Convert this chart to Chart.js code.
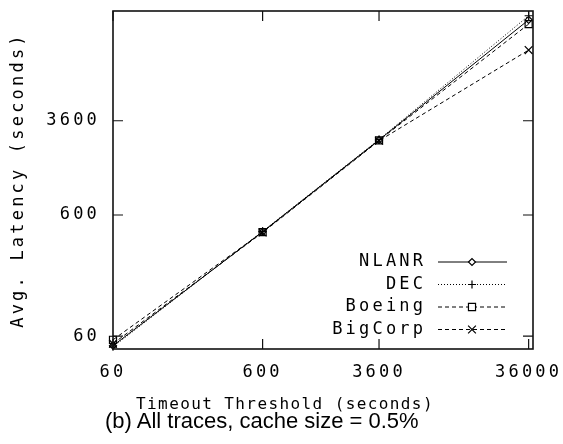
<!DOCTYPE html>
<html><head><meta charset="utf-8">
<script src="https://cdn.jsdelivr.net/npm/chart.js@4.4.0/dist/chart.umd.min.js"></script>
<style>
html,body{margin:0;padding:0;background:#fff;}
#wrap{position:relative;width:563px;height:444px;overflow:hidden;}
#c{position:absolute;left:0;top:0;}
#caption{position:absolute;left:105px;top:408px;font-family:"Liberation Sans",Arial,sans-serif;font-size:22px;color:#000;white-space:nowrap;line-height:26px;}
#xtitle{position:absolute;left:0;width:570px;top:394px;text-align:center;font-family:"DejaVu Sans Mono","Liberation Mono",monospace;font-size:16px;line-height:20px;letter-spacing:1.4px;color:#000;white-space:nowrap;}
</style></head><body>
<div id="wrap"><canvas id="c" width="563" height="444"></canvas><div id="xtitle"></div><div id="caption">(b) All traces, cache size = 0.5%</div></div>
<script>
// ---- data ----
const timeouts = [60, 600, 3600, 36000];
const seriesNames = ['NLANR', 'DEC', 'Boeing', 'BigCorp'];
const nlanr   = [50, 437, 2500, 24500];
const dec     = [49, 440, 2520, 26500];
const boeing  = [56, 434, 2480, 22600];
const bigcorp = [52, 430, 2460, 13800];
const xTickValues = [60, 600, 3600, 36000];
const yTickValues = [60, 600, 3600];
const xTitle = 'Timeout Threshold (seconds)';
const yTitle = 'Avg. Latency (seconds)';

document.getElementById('xtitle').textContent = xTitle;

// ---- styles ----
const MONO = '"DejaVu Sans Mono", "Liberation Mono", monospace';
const LS = 3.2;
const monoFont = {family: MONO, size: 17, lineHeight: 1.2};
const styles = [
  {dash: [], pointStyle: 'rectRot', radius: 3.5},
  {dash: [1, 2], pointStyle: 'cross', radius: 4},
  {dash: [4, 3], pointStyle: 'rect', radius: 5},
  {dash: [4, 3], pointStyle: 'crossRot', radius: 5.5}
];
const allSeries = [nlanr, dec, boeing, bigcorp];

const datasets = allSeries.map((vals, i) => ({
  label: seriesNames[i],
  data: timeouts.map((t, k) => ({x: t, y: vals[k]})),
  borderColor: '#000',
  borderWidth: 1,
  borderDash: styles[i].dash,
  pointStyle: styles[i].pointStyle,
  pointRadius: styles[i].radius,
  pointBorderWidth: 1.2,
  pointBorderColor: '#000',
  pointBackgroundColor: 'rgba(0,0,0,0)',
  tension: 0,
  fill: false,
  clip: false
}));

const spacingPlugin = {
  id: 'spacing',
  beforeDraw(chart) { chart.ctx.letterSpacing = LS + 'px'; }
};

const framePlugin = {
  id: 'frame',
  afterDatasetsDraw(chart) {
    const {ctx, chartArea: a, scales} = chart;
    ctx.save();
    ctx.setLineDash([]);
    ctx.strokeStyle = '#111';
    ctx.lineWidth = 1.6;
    ctx.strokeRect(a.left, a.top, a.right - a.left, a.bottom - a.top);
    ctx.lineWidth = 1.2;
    const T = 10;
    ctx.beginPath();
    xTickValues.forEach(v => {
      const px = scales.x.getPixelForValue(v);
      ctx.moveTo(px, a.bottom); ctx.lineTo(px, a.bottom - T);
      ctx.moveTo(px, a.top); ctx.lineTo(px, a.top + T);
    });
    yTickValues.forEach(v => {
      const py = scales.y.getPixelForValue(v);
      ctx.moveTo(a.left, py); ctx.lineTo(a.left + T, py);
      ctx.moveTo(a.right, py); ctx.lineTo(a.right - T, py);
    });
    ctx.stroke();

    // legend (gnuplot style, inside the plot, lower right)
    ctx.font = '17px ' + MONO;
    ctx.fillStyle = '#000';
    ctx.textAlign = 'right';
    ctx.textBaseline = 'middle';
    const textRight = a.right - 110 + LS;
    const lx0 = a.right - 95, lx1 = a.right - 26, mx = a.right - 61;
    seriesNames.forEach((name, i) => {
      const y = a.bottom - 87 + i * 22.5;
      ctx.fillText(name, textRight, y);
      ctx.save();
      ctx.lineWidth = 1;
      ctx.strokeStyle = '#000';
      ctx.setLineDash(styles[i].dash);
      ctx.beginPath(); ctx.moveTo(lx0, y); ctx.lineTo(lx1, y); ctx.stroke();
      ctx.setLineDash([]);
      ctx.fillStyle = '#fff';
      ctx.lineWidth = 1.2;
      Chart.helpers.drawPoint(ctx, {pointStyle: styles[i].pointStyle, radius: styles[i].radius, rotation: 0, borderWidth: 1.2}, mx, y);
      ctx.restore();
    });
    ctx.restore();
  }
};

new Chart(document.getElementById('c'), {
  type: 'line',
  data: {datasets},
  options: {
    responsive: false,
    animation: false,
    devicePixelRatio: 1,
    layout: {padding: {left: 0, top: 11, right: 30, bottom: 25}},
    plugins: {legend: {display: false}, tooltip: {enabled: false}},
    scales: {
      x: {
        type: 'logarithmic',
        min: 60, max: 38500,
        grid: {display: false, drawTicks: false},
        border: {display: false},
        afterBuildTicks: s => { s.ticks = xTickValues.map(v => ({value: v})); },
        afterFit: s => { s.height = 70; s.paddingLeft = 0; s.paddingRight = 0; },
        ticks: {
          autoSkip: false, maxRotation: 0, padding: 13,
          color: '#000', font: monoFont,
          callback: v => String(v)
        },
        title: {display: false}
      },
      y: {
        type: 'logarithmic',
        min: 47, max: 29000,
        grid: {display: false, drawTicks: false},
        border: {display: false},
        afterBuildTicks: s => { s.ticks = yTickValues.map(v => ({value: v})); },
        afterFit: s => { s.width = 113; s.paddingTop = 0; s.paddingBottom = 0; },
        ticks: {
          autoSkip: false, padding: 13,
          color: '#000', font: monoFont,
          callback: v => String(v)
        },
        title: {display: true, text: yTitle, color: '#000', font: monoFont, padding: {top: 8, bottom: 0}}
      }
    }
  },
  plugins: [spacingPlugin, framePlugin]
});
</script>
</body></html>
